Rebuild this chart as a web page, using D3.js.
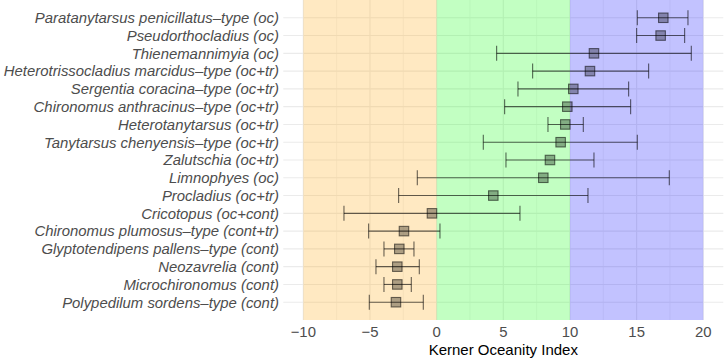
<!DOCTYPE html>
<html>
<head>
<meta charset="utf-8">
<script src="https://cdn.jsdelivr.net/npm/d3@7"></script>
<style>
  body { margin: 0; background: #fff; }
  svg text { font-family: "Liberation Sans", Arial, sans-serif; }
</style>
</head>
<body>
<div id="chart"></div>
<script>
// Kerner Oceanity Index per taxon - point + range

// data (top to bottom)
var taxa = [
  "Paratanytarsus penicillatus\u2013type (oc)",
  "Pseudorthocladius (oc)",
  "Thienemannimyia (oc)",
  "Heterotrissocladius marcidus\u2013type (oc+tr)",
  "Sergentia coracina\u2013type (oc+tr)",
  "Chironomus anthracinus\u2013type (oc+tr)",
  "Heterotanytarsus (oc+tr)",
  "Tanytarsus chenyensis\u2013type (oc+tr)",
  "Zalutschia (oc+tr)",
  "Limnophyes (oc)",
  "Procladius (oc+tr)",
  "Cricotopus (oc+cont)",
  "Chironomus plumosus\u2013type (cont+tr)",
  "Glyptotendipens pallens\u2013type (cont)",
  "Neozavrelia (cont)",
  "Microchironomus (cont)",
  "Polypedilum sordens\u2013type (cont)"
];
var koi  = [17.0, 16.8, 11.8, 11.5, 10.25, 9.8, 9.65, 9.3, 8.5, 8.0, 4.25, -0.35, -2.45, -2.8, -2.95, -2.95, -3.05];
var low  = [15.05, 15.0, 4.5, 7.2, 6.1, 5.1, 8.35, 3.5, 5.2, -1.45, -2.85, -6.95, -5.1, -3.95, -4.55, -3.95, -5.05];
var high = [18.85, 18.6, 19.1, 15.9, 14.4, 14.55, 11.0, 15.05, 11.8, 17.45, 11.35, 6.25, 0.25, -1.7, -1.3, -1.9, -1.0];

// climate zones
var zoneFrom = [-10, 0, 10];
var zoneTo = [0, 10, 20];
var zoneColor = ["#ffa500", "#00ff00", "#0000ff"];

var xTicks = [-10, -5, 0, 5, 10, 15, 20];
var xMinor = [-7.5, -2.5, 2.5, 7.5, 12.5, 17.5];

// variables
var w = 724;
var h = 358;
var panelLeft = 283.3;
var panelRight = 723.3;
var grey = "#4d4d4d";

var svg = d3.select("div#chart")
    .append("svg")
    .attr("width", w)
    .attr("height", h);

// scales
var xScale = d3.scaleLinear().domain([-11.5, 21.5]).range([panelLeft, panelRight]);
// rows sit at 1..17 from the bottom, zone rects span 0..18
var yScale = d3.scaleLinear().domain([0, 18]).range([320, 0]);
function rowY(i) { return yScale(taxa.length - i); }

// gridlines
svg.append("g")
    .selectAll("line")
    .data(xMinor)
    .enter()
    .append("line")
    .attr("x1", function(d) { return xScale(d); })
    .attr("x2", function(d) { return xScale(d); })
    .attr("y1", yScale(18))
    .attr("y2", yScale(0))
    .attr("stroke", "#ebebeb")
    .attr("stroke-width", 0.55);

svg.append("g")
    .selectAll("line")
    .data(xTicks)
    .enter()
    .append("line")
    .attr("x1", function(d) { return xScale(d); })
    .attr("x2", function(d) { return xScale(d); })
    .attr("y1", yScale(18))
    .attr("y2", yScale(0))
    .attr("stroke", "#ebebeb")
    .attr("stroke-width", 1.1);

svg.append("g")
    .selectAll("line")
    .data(taxa)
    .enter()
    .append("line")
    .attr("x1", panelLeft)
    .attr("x2", panelRight)
    .attr("y1", function(d, i) { return rowY(i); })
    .attr("y2", function(d, i) { return rowY(i); })
    .attr("stroke", "#ebebeb")
    .attr("stroke-width", 1.1);

// zone bands
svg.append("g")
    .selectAll("rect")
    .data(zoneFrom)
    .enter()
    .append("rect")
    .attr("x", function(d) { return xScale(d); })
    .attr("width", function(d, i) { return xScale(zoneTo[i]) - xScale(d); })
    .attr("y", yScale(18))
    .attr("height", yScale(0) - yScale(18))
    .attr("fill", function(d, i) { return zoneColor[i]; })
    .attr("fill-opacity", 0.24);

// error bars
var bars = svg.append("g")
    .attr("stroke", "#000")
    .attr("stroke-opacity", 0.6)
    .attr("stroke-width", 1.1);

var cap = 7.5;

bars.selectAll("line.range")
    .data(koi)
    .enter()
    .append("line")
    .attr("class", "range")
    .attr("x1", function(d, i) { return xScale(low[i]); })
    .attr("x2", function(d, i) { return xScale(high[i]); })
    .attr("y1", function(d, i) { return rowY(i); })
    .attr("y2", function(d, i) { return rowY(i); });

bars.selectAll("line.lo")
    .data(koi)
    .enter()
    .append("line")
    .attr("class", "lo")
    .attr("x1", function(d, i) { return xScale(low[i]); })
    .attr("x2", function(d, i) { return xScale(low[i]); })
    .attr("y1", function(d, i) { return rowY(i) - cap; })
    .attr("y2", function(d, i) { return rowY(i) + cap; });

bars.selectAll("line.hi")
    .data(koi)
    .enter()
    .append("line")
    .attr("class", "hi")
    .attr("x1", function(d, i) { return xScale(high[i]); })
    .attr("x2", function(d, i) { return xScale(high[i]); })
    .attr("y1", function(d, i) { return rowY(i) - cap; })
    .attr("y2", function(d, i) { return rowY(i) + cap; });

// points
var s = 9.5;
svg.append("g")
    .selectAll("rect")
    .data(koi)
    .enter()
    .append("rect")
    .attr("x", function(d) { return xScale(d) - s / 2; })
    .attr("y", function(d, i) { return rowY(i) - s / 2; })
    .attr("width", s)
    .attr("height", s)
    .attr("fill", "#000")
    .attr("fill-opacity", 0.32)
    .attr("stroke", "#000")
    .attr("stroke-opacity", 0.55)
    .attr("stroke-width", 1.1);

// y labels
svg.append("g")
    .selectAll("text")
    .data(taxa)
    .enter()
    .append("text")
    .attr("x", 279)
    .attr("y", function(d, i) { return rowY(i); })
    .attr("dy", "0.36em")
    .attr("text-anchor", "end")
    .attr("font-style", "italic")
    .attr("font-size", "14.9px")
    .attr("fill", grey)
    .text(function(d) { return d; });

// x axis labels
svg.append("g")
    .selectAll("text")
    .data(xTicks)
    .enter()
    .append("text")
    .attr("x", function(d) { return xScale(d); })
    .attr("y", 332)
    .attr("dy", "0.36em")
    .attr("text-anchor", "middle")
    .attr("font-size", "14.9px")
    .attr("fill", grey)
    .text(function(d) { return d < 0 ? "\u2212" + Math.abs(d) : d; });

svg.append("text")
    .attr("x", xScale(5))
    .attr("y", 350)
    .attr("dy", "0.36em")
    .attr("text-anchor", "middle")
    .attr("font-size", "15px")
    .attr("fill", "#000")
    .text("Kerner Oceanity Index");

// end of chart
</script>
</body>
</html>
